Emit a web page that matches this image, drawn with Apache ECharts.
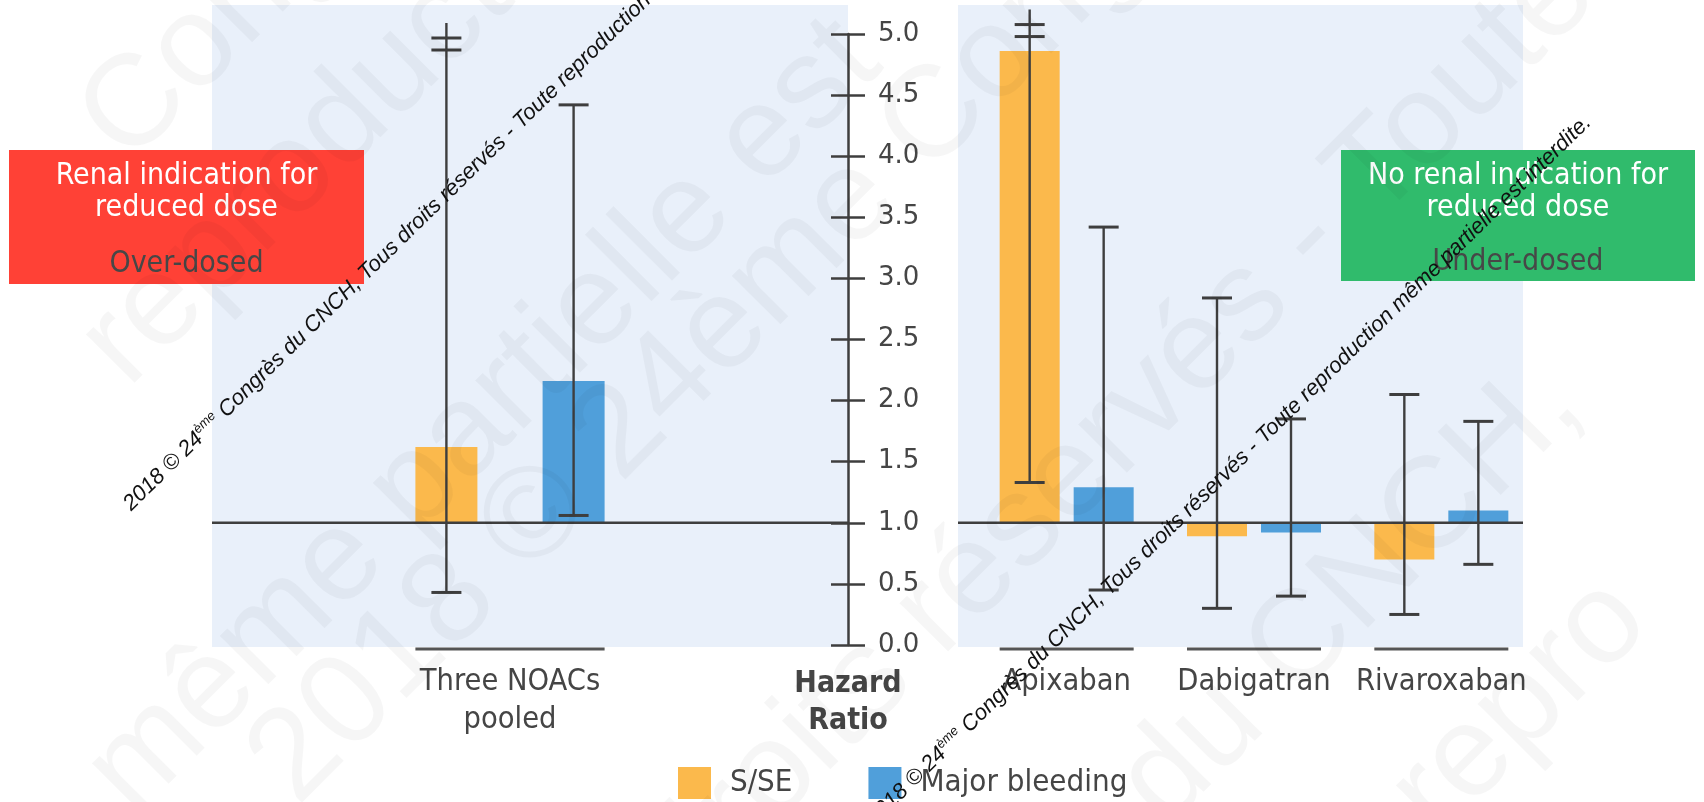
<!DOCTYPE html>
<html>
<head>
<meta charset="utf-8">
<script src="https://cdn.jsdelivr.net/npm/echarts@6/dist/echarts.min.js"></script>
<style>
  html, body { margin: 0; padding: 0; background: #ffffff; }
  #chart { width: 1704px; height: 802px; }
</style>
</head>
<body>
<div id="chart"></div>
<script>
// ---- data -------------------------------------------------------------
const pooledCategories = ['Three NOACs\npooled'];
const drugCategories = ['Apixaban', 'Dabigatran', 'Rivaroxaban'];
const seriesNames = ['S/SE', 'Major bleeding'];

// order of every value array: pooled, Apixaban, Dabigatran, Rivaroxaban
const sseHR = [1.62, 4.86, 0.89, 0.70];
const sseLower = [0.43, 1.33, 0.30, 0.25];
const sseUpper = [5.09, 5.20, 2.84, 2.05];       // end of the drawn whisker
const sseUpperBroken = [1, 1, 0, 0];              // whisker runs off the scale
const bleedHR = [2.16, 1.29, 0.92, 1.10];
const bleedLower = [1.06, 0.45, 0.40, 0.66];
const bleedUpper = [4.42, 3.42, 1.85, 1.83];
const bleedUpperBroken = [0, 0, 0, 0];

// hazard-ratio scale
const hrMin = 0;
const hrMax = 5;
const hrStep = 0.5;
const hrReference = 1;

// ---- styling / layout -------------------------------------------------
const ORANGE = '#fbb94c';
const BLUE = '#509fda';
const INK = '#3e3e3e';
const TEXT = '#454545';
const PANEL_FILL = '#e9f0fa';
const COND = '"DejaVu Sans Condensed", "Liberation Sans Narrow", sans-serif';
const ARIAL = '"Liberation Sans", Arial, sans-serif';
const PANELS = [
  { x: 212, y: 5, w: 636, h: 642 },
  { x: 958, y: 5, w: 565, h: 642 }
];
const BAR_OFFSET = [63.6, 37];
const BAR_WIDTH = [62, 60];
const CAP = 30;

const pooledIdx = [0];
const drugIdx = [1, 2, 3];
function rows(hr, lo, hi, broken, idx) {
  return idx.map((k, i) => [i, hr[k], lo[k], hi[k], broken[k]]);
}

// bar from HR = 1 to the estimate, with its confidence interval
function barRenderer(side, sign) {
  return function (params, api) {
    const cat = api.value(0);
    const base = api.coord([cat, hrReference]);
    const est = api.coord([cat, api.value(1)]);
    const lo = api.coord([cat, api.value(2)]);
    const hi = api.coord([cat, api.value(3)]);
    const cx = base[0] + sign * BAR_OFFSET[side];
    const w = BAR_WIDTH[side];
    const err = { stroke: INK, lineWidth: 2.4 };
    const capStyle = { stroke: INK, lineWidth: 3 };
    const children = [
      {
        type: 'rect',
        shape: { x: cx - w / 2, y: Math.min(base[1], est[1]), width: w, height: Math.abs(base[1] - est[1]) },
        style: { fill: api.visual('color') }
      },
      { type: 'line', shape: { x1: cx, y1: lo[1], x2: cx, y2: hi[1] }, style: err },
      { type: 'line', shape: { x1: cx - CAP / 2, y1: lo[1], x2: cx + CAP / 2, y2: lo[1] }, style: capStyle }
    ];
    if (api.value(4)) {
      // axis-break marks on a whisker that leaves the scale
      [15, 27].forEach(d => children.push({
        type: 'line',
        shape: { x1: cx - CAP / 2, y1: hi[1] + d, x2: cx + CAP / 2, y2: hi[1] + d },
        style: capStyle
      }));
    } else {
      children.push({ type: 'line', shape: { x1: cx - CAP / 2, y1: hi[1], x2: cx + CAP / 2, y2: hi[1] }, style: capStyle });
    }
    return { type: 'group', children };
  };
}

// reference line at HR = 1 and the bracket under each category
function frameRenderer(side) {
  return function (params, api) {
    const cat = api.value(0);
    const foot = api.coord([cat, hrMin]);
    const yRef = api.coord([cat, hrReference])[1];
    const half = BAR_OFFSET[side] + BAR_WIDTH[side] / 2;
    const children = [{
      type: 'line',
      shape: { x1: foot[0] - half, y1: foot[1] + 4, x2: foot[0] + half, y2: foot[1] + 4 },
      style: { stroke: '#555555', lineWidth: 3 }
    }];
    if (params.dataIndex === 0) {
      const p = PANELS[side];
      children.push({
        type: 'line',
        shape: { x1: p.x, y1: yRef, x2: p.x + p.w, y2: yRef },
        style: { stroke: INK, lineWidth: 2.5 }
      });
    }
    return { type: 'group', children };
  };
}

const categoryLabel = {
  fontFamily: COND, fontSize: 30.5, color: TEXT, lineHeight: 38, margin: 18, interval: 0
};
const hiddenY = { min: hrMin, max: hrMax, interval: hrStep, show: false };

// large faint notice lettering across the figure
const noticeFragments = [
  { x: 103, y: 141, text: 'Congrès' },
  { x: 103, y: 364, text: 'reproduction' },
  { x: 109, y: 793, text: 'même partielle est' },
  { x: 272, y: 782, text: '2018 © 24ème Congrès' },
  { x: 666, y: 883, text: 'droits réservés - Toute' },
  { x: 1141, y: 804, text: 'du CNCH,' },
  { x: 1413, y: 815, text: 'repro' }
];
const smallNotice = '2018 © 24{sup|ème} Congrès du CNCH, Tous droits réservés - Toute reproduction même partielle est interdite.';

const chart = echarts.init(document.getElementById('chart'));
chart.setOption({
  animation: false,
  color: [ORANGE, BLUE],
  grid: [
    { left: 212, top: 34, width: 596, height: 611 },
    { left: 973, top: 34, width: 562, height: 611 },
    { left: 831, top: 34, width: 34, height: 611 }
  ],
  xAxis: [
    { type: 'category', gridIndex: 0, data: pooledCategories,
      axisLine: { show: false }, axisTick: { show: false }, axisLabel: categoryLabel },
    { type: 'category', gridIndex: 1, data: drugCategories,
      axisLine: { show: false }, axisTick: { show: false }, axisLabel: categoryLabel },
    { type: 'value', gridIndex: 2, min: 0, max: 1, show: false }
  ],
  yAxis: [
    Object.assign({ type: 'value', gridIndex: 0 }, hiddenY),
    Object.assign({ type: 'value', gridIndex: 1 }, hiddenY),
    {
      // the central hazard-ratio axis; its split lines form the crossing ticks
      type: 'value', gridIndex: 2, position: 'left', offset: -17,
      min: hrMin, max: hrMax, interval: hrStep,
      splitLine: { show: true, lineStyle: { color: INK, width: 2.5 } },
      axisLine: { show: true, lineStyle: { color: INK, width: 2.5 } },
      axisTick: { show: false },
      axisLabel: {
        inside: true, margin: 30, fontFamily: '"DejaVu Sans", sans-serif', fontSize: 26, color: TEXT,
        formatter: v => v.toFixed(1)
      },
      name: 'Hazard\nRatio', nameLocation: 'start', nameGap: 21,
      nameTextStyle: {
        fontFamily: COND, fontSize: 30, fontWeight: 'bold', color: TEXT,
        lineHeight: 37, align: 'center', verticalAlign: 'top'
      }
    }
  ],
  legend: {
    data: seriesNames, left: 678, top: 767, icon: 'rect',
    itemWidth: 33, itemHeight: 32, itemGap: 76, padding: 0,
    textStyle: { fontFamily: COND, fontSize: 31, color: TEXT, padding: [0, 0, 0, 14] }
  },
  series: [
    { type: 'custom', name: seriesNames[0], xAxisIndex: 0, yAxisIndex: 0,
      renderItem: barRenderer(0, -1), itemStyle: { color: ORANGE },
      encode: { x: 0, y: [1, 2, 3] },
      data: rows(sseHR, sseLower, sseUpper, sseUpperBroken, pooledIdx) },
    { type: 'custom', name: seriesNames[1], xAxisIndex: 0, yAxisIndex: 0,
      renderItem: barRenderer(0, 1), itemStyle: { color: BLUE },
      encode: { x: 0, y: [1, 2, 3] },
      data: rows(bleedHR, bleedLower, bleedUpper, bleedUpperBroken, pooledIdx) },
    { type: 'custom', name: seriesNames[0], xAxisIndex: 1, yAxisIndex: 1,
      renderItem: barRenderer(1, -1), itemStyle: { color: ORANGE },
      encode: { x: 0, y: [1, 2, 3] },
      data: rows(sseHR, sseLower, sseUpper, sseUpperBroken, drugIdx) },
    { type: 'custom', name: seriesNames[1], xAxisIndex: 1, yAxisIndex: 1,
      renderItem: barRenderer(1, 1), itemStyle: { color: BLUE },
      encode: { x: 0, y: [1, 2, 3] },
      data: rows(bleedHR, bleedLower, bleedUpper, bleedUpperBroken, drugIdx) },
    { type: 'custom', xAxisIndex: 0, yAxisIndex: 0, z: 3, silent: true,
      renderItem: frameRenderer(0), data: pooledCategories.map((c, i) => [i]) },
    { type: 'custom', xAxisIndex: 1, yAxisIndex: 1, z: 3, silent: true,
      renderItem: frameRenderer(1), data: drugCategories.map((c, i) => [i]) }
  ],
  graphic: [
    // shaded plotting panels
    ...PANELS.map(p => ({ type: 'rect', z: 0, silent: true,
      shape: { x: p.x, y: p.y, width: p.w, height: p.h }, style: { fill: PANEL_FILL } })),
    // dosing boxes
    { type: 'group', z: 5, children: [
      { type: 'rect', shape: { x: 9, y: 150, width: 355, height: 134 }, style: { fill: '#ff4136' } },
      { type: 'text', x: 186.5, y: 176, style: { text: 'Renal indication for', fill: '#ffffff', fontFamily: COND, fontSize: 30, align: 'center', verticalAlign: 'middle' } },
      { type: 'text', x: 186.5, y: 208, style: { text: 'reduced dose', fill: '#ffffff', fontFamily: COND, fontSize: 30, align: 'center', verticalAlign: 'middle' } },
      { type: 'text', x: 186.5, y: 264, style: { text: 'Over-dosed', fill: '#474747', fontFamily: COND, fontSize: 30, align: 'center', verticalAlign: 'middle' } }
    ] },
    { type: 'group', z: 5, children: [
      { type: 'rect', shape: { x: 1341, y: 150, width: 354, height: 131 }, style: { fill: '#30bb6c' } },
      { type: 'text', x: 1518, y: 176, style: { text: 'No renal indication for', fill: '#ffffff', fontFamily: COND, fontSize: 30, align: 'center', verticalAlign: 'middle' } },
      { type: 'text', x: 1518, y: 208, style: { text: 'reduced dose', fill: '#ffffff', fontFamily: COND, fontSize: 30, align: 'center', verticalAlign: 'middle' } },
      { type: 'text', x: 1518, y: 262, style: { text: 'Under-dosed', fill: '#474747', fontFamily: COND, fontSize: 30, align: 'center', verticalAlign: 'middle' } }
    ] },
    // faint large lettering
    ...noticeFragments.map(f => ({
      type: 'text', x: f.x, y: f.y, z: 100, rotation: Math.PI / 4, silent: true,
      style: { text: f.text, fill: 'rgba(0,0,0,0.035)', fontFamily: ARIAL, fontSize: 130,
        align: 'left', verticalAlign: 'middle' }
    })),
    // copyright notice, printed diagonally
    ...[[127, 507], [870, 822]].map(([x, y]) => ({
      type: 'text', x, y, z: 101, rotation: 0.775, silent: true,
      style: {
        text: smallNotice,
        fill: '#111111', fontFamily: ARIAL, fontStyle: 'italic', fontSize: 22,
        align: 'left', verticalAlign: 'middle',
        rich: { sup: { fontSize: 13, fontStyle: 'italic', fontFamily: ARIAL, fill: '#111111', verticalAlign: 'top', padding: [0, 0, 12, 0] } }
      }
    }))
  ]
});
</script>
</body>
</html>
